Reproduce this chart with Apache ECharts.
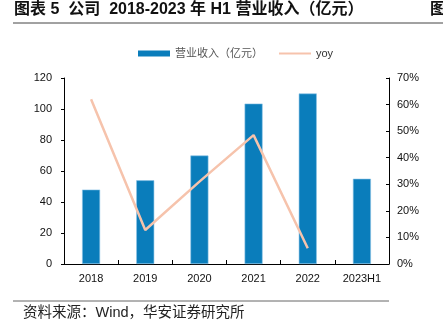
<!DOCTYPE html>
<html>
<head>
<meta charset="utf-8">
<script src="https://cdn.jsdelivr.net/npm/echarts@6/dist/echarts.min.js"></script>
<style>
  html, body { margin: 0; padding: 0; background: #fff; }
  #chart { width: 443px; height: 325px; }
</style>
</head>
<body>
<div id="chart"></div>
<script>
// Revenue (100m CNY) and year-on-year growth, 2018 – 2023H1
const categories = ['2018', '2019', '2020', '2021', '2022', '2023H1'];
const revenue = [48, 54, 70, 103.5, 110, 55];
const yoy = [62, 12.8, 31, 48.5, 5.9, null];
const leftTicks = [0, 20, 40, 60, 80, 100, 120];
const rightTicks = [0, 10, 20, 30, 40, 50, 60, 70];

const cjk = '"Liberation Sans", "Noto Sans CJK SC", sans-serif';
const barColor = '#0A7DBB';
const lineColor = '#F6C3AC';
const chart = echarts.init(document.getElementById('chart'), null, { renderer: 'canvas' });

chart.setOption({
  animation: false,
  backgroundColor: '#fff',
  textStyle: { fontFamily: cjk },
  graphic: [
    { type: 'text', left: 14, top: 2,
      style: { text: '图表 5  公司  2018-2023 年 H1 营业收入（亿元）', font: 'bold 16px ' + cjk, fill: '#111' } },
    { type: 'text', left: 430, top: 2,
      style: { text: '图', font: 'bold 16px ' + cjk, fill: '#111' } },
    { type: 'line', shape: { x1: 13, y1: 23, x2: 443, y2: 23 },
      style: { stroke: '#444', lineWidth: 1 } },
    { type: 'line', shape: { x1: 13, y1: 301, x2: 389, y2: 301 },
      style: { stroke: '#666', lineWidth: 1 } },
    { type: 'text', left: 23, top: 306,
      style: { text: '资料来源：Wind，华安证券研究所', font: '14.5px ' + cjk, fill: '#222' } }
  ],
  legend: [
    {
      top: 43, left: 133,
      itemWidth: 32, itemHeight: 6, itemGap: 4,
      textStyle: { fontSize: 11, color: '#555', fontFamily: cjk },
      data: [{ name: '营业收入（亿元）', icon: 'rect',
               itemStyle: { color: barColor, borderWidth: 0 } }]
    },
    {
      top: 43, left: 274,
      itemWidth: 32, itemHeight: 2, itemGap: 4,
      textStyle: { fontSize: 11, color: '#333', fontFamily: cjk },
      data: [{ name: 'yoy', icon: 'rect', itemStyle: { color: lineColor } }]
    }
  ],
  grid: { left: 64, right: 54, top: 78, bottom: 61 },
  xAxis: {
    type: 'category',
    data: categories,
    axisLine: { lineStyle: { color: '#000', width: 1 } },
    axisTick: { show: true, inside: true, length: 4, lineStyle: { color: '#000' } },
    axisLabel: { color: '#111', fontSize: 11, margin: 9 }
  },
  yAxis: [
    {
      type: 'value', min: 0, max: 120, interval: 20,
      axisLine: { show: true, lineStyle: { color: '#000' } },
      axisTick: { show: true, inside: false, length: 3, lineStyle: { color: '#000' } },
      axisLabel: { color: '#111', fontSize: 11, margin: 12,
        formatter: v => leftTicks.includes(v) ? String(v) : '' },
      splitLine: { show: false }
    },
    {
      type: 'value', min: 0, max: 70, interval: 10,
      axisLine: { show: true, lineStyle: { color: '#000' } },
      axisTick: { show: true, inside: true, length: 3, lineStyle: { color: '#000' } },
      axisLabel: { color: '#111', fontSize: 11, margin: 8,
        formatter: v => rightTicks.includes(v) ? v + '%' : '' },
      splitLine: { show: false }
    }
  ],
  series: [
    {
      name: '营业收入（亿元）',
      type: 'bar',
      data: revenue,
      barWidth: 18,
      itemStyle: { color: barColor, borderColor: '#8CC3E6', borderWidth: 0.6 }
    },
    {
      name: 'yoy',
      type: 'line',
      yAxisIndex: 1,
      data: yoy,
      symbol: 'none',
      lineStyle: { color: lineColor, width: 2.5 },
      itemStyle: { color: lineColor }
    }
  ]
});
</script>
</body>
</html>
